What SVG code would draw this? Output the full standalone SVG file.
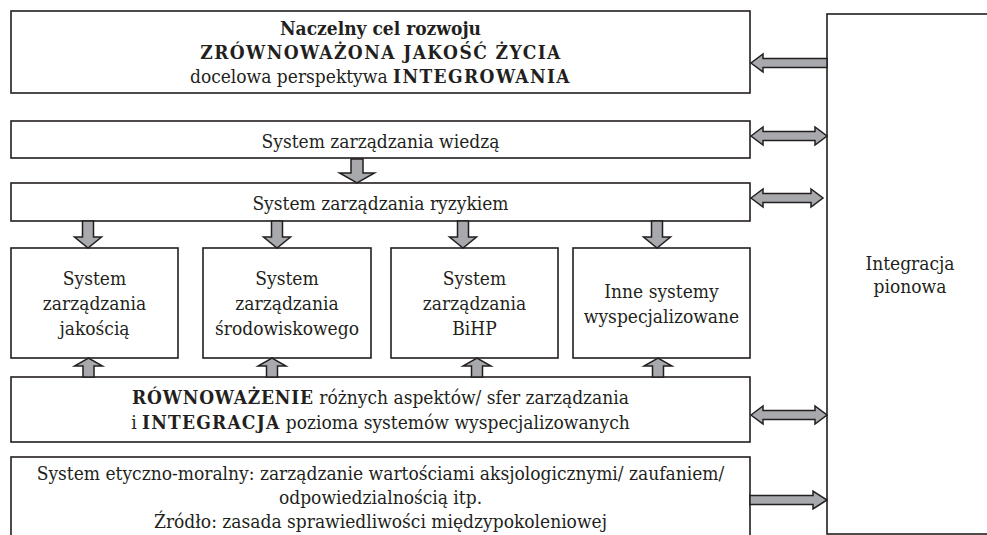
<svg xmlns="http://www.w3.org/2000/svg" width="987" height="535" viewBox="0 0 987 535">
<style>
.box{fill:#ffffff;stroke:#231f20;stroke-width:1.6}
.arr{fill:#a7a9ac;stroke:#231f20;stroke-width:1.5;stroke-linejoin:miter}
.t text{font-size:19px;fill:#231f20;text-anchor:middle;font-stretch:condensed}
.b{font-weight:bold}
.caps{letter-spacing:1.4px}
</style>
<rect width="987" height="535" fill="#ffffff"/>
<g class="t" font-family="'DejaVu Serif Condensed', 'DejaVu Serif', serif">
<g id="node-goal">
<rect class="box" x="11" y="11" width="739" height="82"/>
<text x="380.5" y="35" class="b">Naczelny cel rozwoju</text>
<text x="381" y="59" class="b caps">ZRÓWNOWAŻONA JAKOŚĆ ŻYCIA</text>
<text x="380.5" y="83">docelowa perspektywa <tspan class="b caps">INTEGROWANIA</tspan></text>
</g>
<g id="node-knowledge">
<rect class="box" x="11" y="121" width="739" height="37"/>
<text x="380.5" y="148">System zarządzania wiedzą</text>
</g>
<g id="node-risk">
<rect class="box" x="11" y="183" width="739" height="38"/>
<text x="380.5" y="210">System zarządzania ryzykiem</text>
</g>
<g id="node-quality">
<rect class="box" x="11" y="248" width="167" height="110"/>
<text x="94.5" y="285">System</text>
<text x="94.5" y="310">zarządzania</text>
<text x="94.5" y="335">jakością</text>
</g>
<g id="node-environment">
<rect class="box" x="203" y="248" width="168" height="110"/>
<text x="287" y="285">System</text>
<text x="287" y="310">zarządzania</text>
<text x="287" y="335">środowiskowego</text>
</g>
<g id="node-bihp">
<rect class="box" x="391" y="248" width="167" height="110"/>
<text x="474.5" y="285">System</text>
<text x="474.5" y="310">zarządzania</text>
<text x="474.5" y="335">BiHP</text>
</g>
<g id="node-other">
<rect class="box" x="573" y="248" width="177" height="110"/>
<text x="661.5" y="298">Inne systemy</text>
<text x="661.5" y="323">wyspecjalizowane</text>
</g>
<g id="node-balance">
<rect class="box" x="11" y="377" width="739" height="65"/>
<text x="380.5" y="404"><tspan class="b" letter-spacing="0.8">RÓWNOWAŻENIE</tspan> różnych aspektów/ sfer zarządzania</text>
<text x="380.5" y="429">i <tspan class="b" letter-spacing="1.2">INTEGRACJA</tspan> pozioma systemów wyspecjalizowanych</text>
</g>
<g id="node-ethics">
<rect class="box" x="11" y="457" width="739" height="90"/>
<text x="380.5" y="480">System etyczno-moralny: zarządzanie wartościami aksjologicznymi/ zaufaniem/</text>
<text x="380.5" y="504">odpowiedzialnością itp.</text>
<text x="380.5" y="528">Źródło: zasada sprawiedliwości międzypokoleniowej</text>
</g>
<g id="node-vertical">
<rect class="box" x="827" y="14" width="200" height="520"/>
<text x="910" y="270">Integracja</text>
<text x="910" y="293">pionowa</text>
</g>
</g>
<g id="connectors">
<path class="arr" d="M827,58.5 H763 V54 L751,63 L763,72 V67.5 H827 Z"/>
<path class="arr" d="M751,136 L763,127 V131.5 H815 V127 L827,136 L815,145 V140.5 H763 V145 Z"/>
<path class="arr" d="M751,198 L763,189 V193.5 H811 V189 L823,198 L811,207 V202.5 H763 V207 Z"/>
<path class="arr" d="M751,415 L763,406 V410.5 H815 V406 L827,415 L815,424 V419.5 H763 V424 Z"/>
<path class="arr" d="M750,495.5 H813 V491 L827,500 L813,509 V504.5 H750 Z"/>
<path class="arr" d="M351,159 H363 V173 H374.5 L357,183 L339.5,173 H351 Z"/>
<path class="arr" d="M82.5,221 H93.5 V237 H101.5 L88,248 L74.5,237 H82.5 Z"/>
<path class="arr" d="M271.5,221 H282.5 V237 H290.5 L277,248 L263.5,237 H271.5 Z"/>
<path class="arr" d="M457.5,221 H468.5 V237 H476.5 L463,248 L449.5,237 H457.5 Z"/>
<path class="arr" d="M651.5,221 H662.5 V237 H670.5 L657,248 L643.5,237 H651.5 Z"/>
<path class="arr" d="M83,377 H94 V366 H102.5 L88.5,358 L74.5,366 H83 Z"/>
<path class="arr" d="M266.5,377 H277.5 V366 H286 L272,358 L258,366 H266.5 Z"/>
<path class="arr" d="M471.5,377 H482.5 V366 H491 L477,358 L463,366 H471.5 Z"/>
<path class="arr" d="M652.5,377 H663.5 V366 H672 L658,358 L644,366 H652.5 Z"/>
</g>
</svg>
